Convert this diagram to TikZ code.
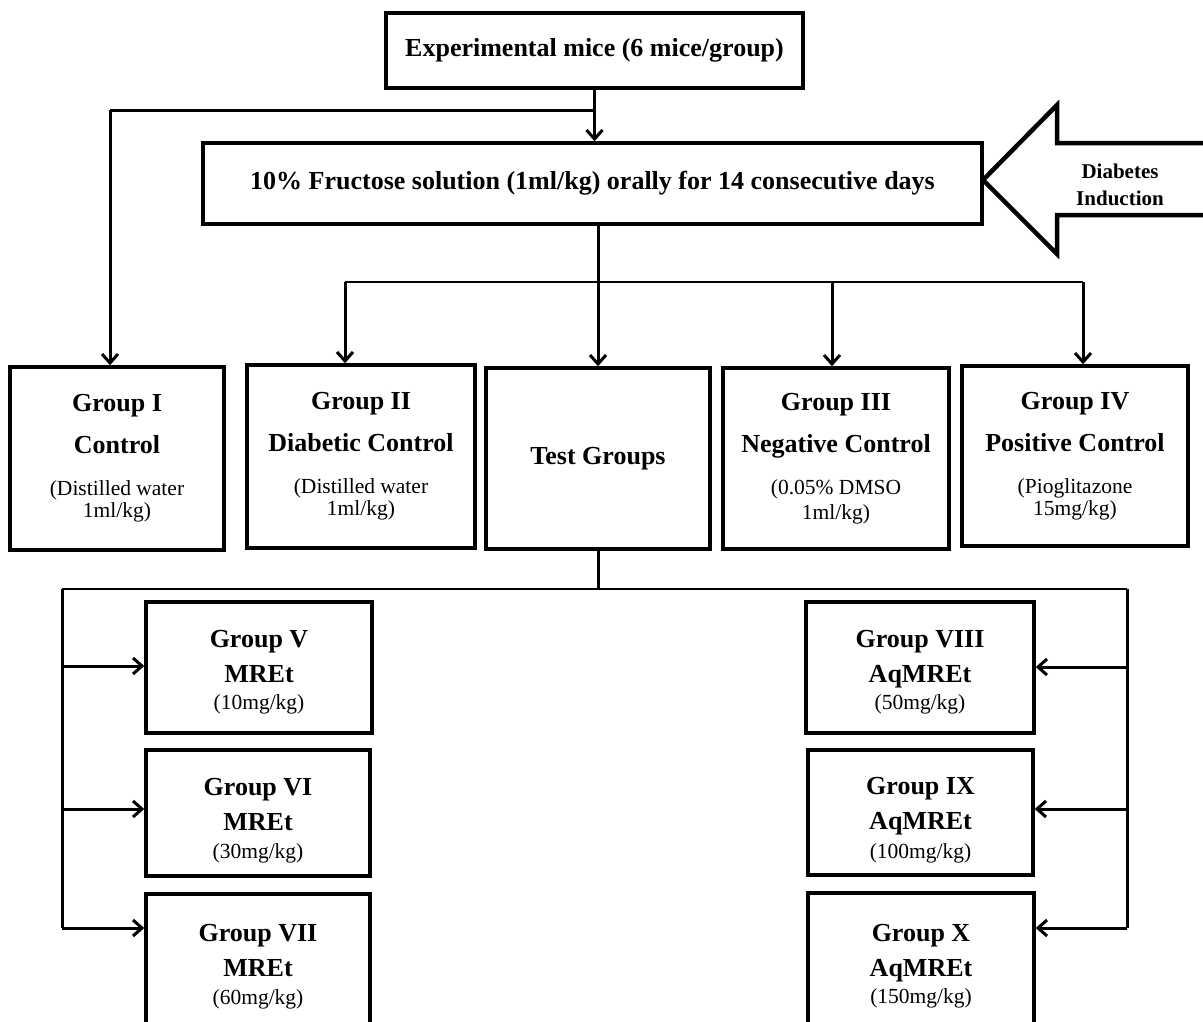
\documentclass[tikz,border=0pt]{standalone}
\usepackage{fontspec}
\setmainfont{Liberation Serif}
\usetikzlibrary{arrows.meta}
\newcommand\subt[1]{{\fontsize{21.5}{22}\selectfont\mdseries #1}}
\newcommand\lowr[1]{\rule{0pt}{#1}}
\begin{document}
\begin{tikzpicture}[x=1pt,y=-1pt,
  box/.style={draw,line width=3.5pt,inner sep=0pt,align=center,font=\fontsize{26}{42}\selectfont\bfseries},
  sbox/.style={box,font=\fontsize{26}{35}\selectfont\bfseries},
  conn/.style={line width=3pt,-{Straight Barb[length=9pt,width=16pt]}},
  trunk/.style={line width=3pt},
  bus/.style={line width=2pt}]
\useasboundingbox (0,0) rectangle (1203,1021);

% top boxes
\node[box,minimum width=417,minimum height=75] (top) at (594.5,50.5) {Experimental mice (6 mice/group)};
\node[box,minimum width=779,minimum height=81] (fr) at (592.5,183.5) {10\% Fructose solution (1ml/kg) orally for 14 consecutive days};

% diabetes induction arrow
\draw[line width=4.5pt,line join=miter] (1212,143) -- (1057,143) -- (1057,105) -- (983,180) -- (1057,254) -- (1057,215) -- (1212,215);
\node[font=\fontsize{21}{27}\selectfont\bfseries,align=center] (di) at (1120,185) {Diabetes\\Induction};

% middle row
\node[box,minimum width=214,minimum height=183] (g1) at (117,458.5) {Group I\\Control\\\subt{(Distilled water}\\[-20pt]\subt{1ml/kg)}};
\node[box,minimum width=228,minimum height=183] (g2) at (361,456.5) {Group II\\Diabetic Control\\\subt{(Distilled water}\\[-20pt]\subt{1ml/kg)}};
\node[box,minimum width=224,minimum height=181] (tg) at (598,458.5) {Test Groups};
\node[box,minimum width=226,minimum height=181] (g3) at (836,458.5) {Group III\\Negative Control\\\subt{(0.05\% DMSO}\\[-17pt]\subt{1ml/kg)}};
\node[box,minimum width=226,minimum height=180] (g4) at (1075,456) {Group IV\\Positive Control\\\subt{(Pioglitazone}\\[-20pt]\subt{15mg/kg)}};

% test groups
\node[sbox,minimum width=226,minimum height=131] (g5) at (259,667.5) {\lowr{27pt}Group V\\MREt\\[-8pt]\subt{(10mg/kg)}};
\node[sbox,minimum width=224,minimum height=126] (g6) at (258,813) {\lowr{32pt}Group VI\\MREt\\[-7pt]\subt{(30mg/kg)}};
\node[sbox,minimum width=224,minimum height=146] (g7) at (258,967) {Group VII\\MREt\\[-7pt]\subt{(60mg/kg)}};
\node[sbox,minimum width=228,minimum height=131] (g8) at (920,667.5) {\lowr{27pt}Group VIII\\AqMREt\\[-8pt]\subt{(50mg/kg)}};
\node[sbox,minimum width=225,minimum height=125] (g9) at (920.5,812.5) {\lowr{32pt}Group IX\\AqMREt\\[-6pt]\subt{(100mg/kg)}};
\node[sbox,minimum width=226,minimum height=147] (g10) at (921,966.5) {Group X\\AqMREt\\[-8pt]\subt{(150mg/kg)}};

% coordinates
\coordinate (j1) at (top.south |- 0,110);
\coordinate (a1) at (110,110);
\coordinate (b2) at (345,282);
\coordinate (b3) at (832,282);
\coordinate (b4) at (1083,282);
\coordinate (c0) at (tg.south |- 0,589);
\coordinate (cl) at (62,589);
\coordinate (cr) at (1127,589);
\coordinate (l5) at (62,666);
\coordinate (l6) at (62,809);
\coordinate (l7) at (62,928);
\coordinate (r8) at (1127,667);
\coordinate (r9) at (1127,809);
\coordinate (r10) at (1127,928);

% connectors
\draw[conn] (top.south) -- (top.south |- fr.north);
\draw[trunk] (j1) -- (a1);
\draw[conn] (a1) -- (a1 |- g1.north);
\draw[conn] (tg.north |- fr.south) -- (tg.north);
\draw[bus] (b2) -- (b4);
\draw[conn] (b2) -- (b2 |- g2.north);
\draw[conn] (b3) -- (b3 |- g3.north);
\draw[conn] (b4) -- (b4 |- g4.north);

\draw[trunk] (tg.south) -- (c0);
\draw[bus] (cl) -- (cr);
\draw[trunk] (cl) -- (l7);
\draw[trunk] (cr) -- (r10);
\draw[conn] (l5) -- (l5 -| g5.west);
\draw[conn] (l6) -- (l6 -| g6.west);
\draw[conn] (l7) -- (l7 -| g7.west);
\draw[conn] (r8) -- (r8 -| g8.east);
\draw[conn] (r9) -- (r9 -| g9.east);
\draw[conn] (r10) -- (r10 -| g10.east);
\end{tikzpicture}
\end{document}
